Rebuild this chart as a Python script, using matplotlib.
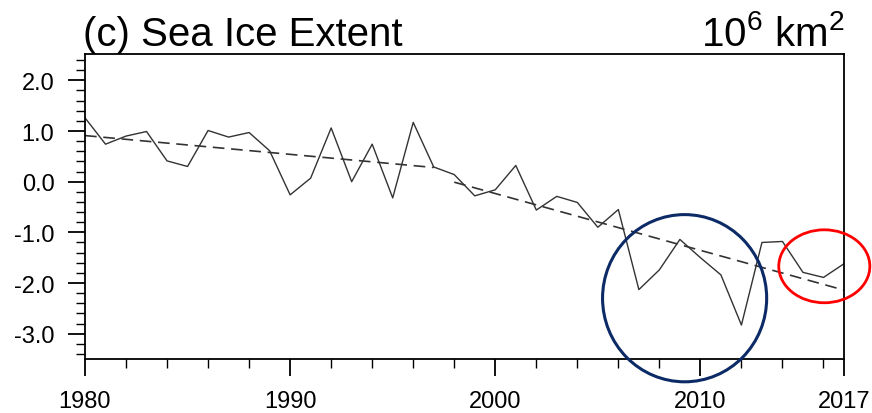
import matplotlib
matplotlib.use("Agg")
import matplotlib.pyplot as plt
from matplotlib import font_manager
from matplotlib.patches import Ellipse
from matplotlib.ticker import MultipleLocator, FixedLocator
import numpy as np

FONT = "Liberation Sans"
plt.rcParams["font.family"] = [FONT, "DejaVu Sans"]
plt.rcParams["mathtext.fontset"] = "custom"
plt.rcParams["mathtext.rm"] = FONT
plt.rcParams["mathtext.it"] = FONT

years = list(range(1980, 2018))
extent = [1.26, 0.74, 0.90, 0.99, 0.41, 0.30, 1.01, 0.88, 0.97, 0.61,
          -0.26, 0.07, 1.06, 0.00, 0.74, -0.32, 1.17, 0.29, 0.14, -0.28,
          -0.16, 0.32, -0.56, -0.29, -0.41, -0.90, -0.55, -2.13, -1.74, -1.14,
          -1.50, -1.84, -2.83, -1.20, -1.18, -1.79, -1.89, -1.62]
trend1_years = [1980, 1997]
trend1_vals = [0.91, 0.28]
trend2_years = [1998, 2017]
trend2_vals = [-0.01, -2.14]
xticks = [1980, 1990, 2000, 2010, 2017]
yticks = [2.0, 1.0, 0.0, -1.0, -2.0, -3.0]

W, H = 872, 414
fig = plt.figure(figsize=(W / 100, H / 100), dpi=100)
ax = fig.add_axes([85 / W, 1 - 360 / H, (844 - 85) / W, (360 - 55) / H])

ax.plot(years, extent, color="#333333", lw=1.0)
ax.plot(trend1_years, trend1_vals, color="#333333", lw=1.2, dashes=(7, 4))
ax.plot(trend2_years, trend2_vals, color="#333333", lw=1.2, dashes=(7, 4))

ax.set_xlim(1980, 2017)
ax.set_ylim(-3.5, 2.52)
ax.xaxis.set_major_locator(FixedLocator(xticks))
ax.xaxis.set_minor_locator(MultipleLocator(2))
ax.yaxis.set_major_locator(FixedLocator(yticks))
ax.yaxis.set_minor_locator(MultipleLocator(0.2))
ax.set_xticklabels([str(x) for x in xticks])
ax.set_yticklabels([f"{v:.1f}" for v in yticks])
ax.tick_params(axis="both", which="major", direction="out", length=12, width=1.3,
               top=False, right=False)
ax.tick_params(axis="both", which="minor", direction="out", length=6.5, width=1.0,
               top=False, right=False)
ax.tick_params(axis="y", which="major", labelsize=17, pad=10)
ax.tick_params(axis="x", which="major", labelsize=17, pad=10)
for s in ax.spines.values():
    s.set_linewidth(1.3)

# annotation ellipses
ax.add_patch(Ellipse((2009.23, -2.30), 8.0, 3.30, fill=False, edgecolor="#0b2a66",
                     lw=2.2, clip_on=False, zorder=5))
ax.add_patch(Ellipse((2016.04, -1.67), 4.44, 1.44, fill=False, edgecolor="#ff0000",
                     lw=2.0, clip_on=False, zorder=5))

fig.text(83 / W, 1 - 46 / H, "(c) Sea Ice Extent", fontsize=29, ha="left", va="baseline")
fig.text(844 / W, 1 - 46 / H, r"10$^6$ km$^2$", fontsize=29, ha="right", va="baseline")

fig.savefig("out.png", dpi=100)
